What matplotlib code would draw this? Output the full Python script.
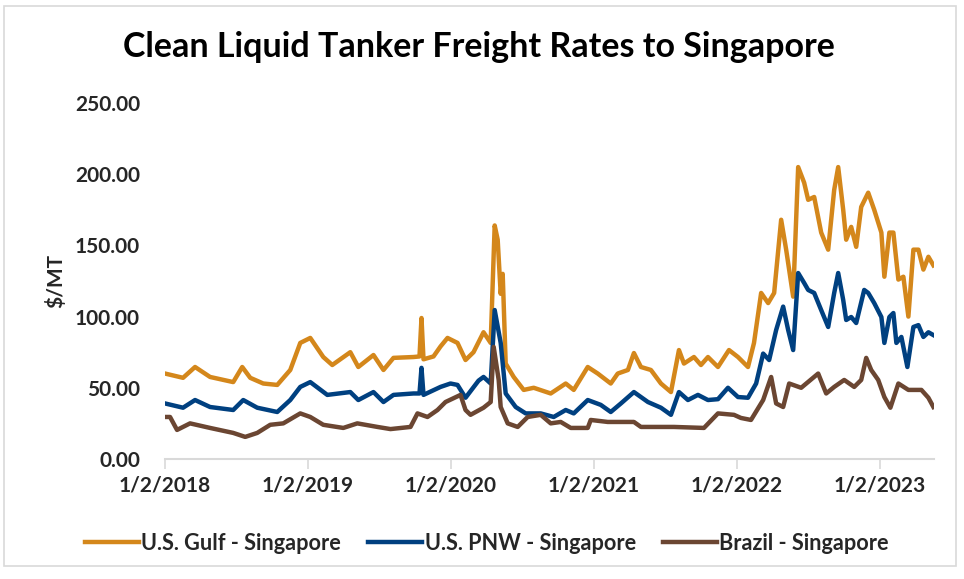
import matplotlib
matplotlib.use("Agg")
import matplotlib.pyplot as plt
from matplotlib.patches import Rectangle
import pandas as pd

# time in years after 1/2/2018
gulf_t = [0.000, 0.126, 0.210, 0.315, 0.477, 0.540, 0.596, 0.687, 0.785, 0.876, 0.946,
          1.016, 1.107, 1.170, 1.296, 1.352, 1.458, 1.528, 1.598, 1.738, 1.780, 1.794,
          1.808, 1.878, 1.927, 1.976, 2.046, 2.102, 2.158, 2.228, 2.278, 2.306, 2.327,
          2.348, 2.362, 2.383, 2.439, 2.509, 2.579, 2.698, 2.803, 2.859, 2.957, 3.027,
          3.118, 3.167, 3.238, 3.280, 3.329, 3.399, 3.469, 3.539, 3.595, 3.630, 3.700,
          3.749, 3.798, 3.868, 3.945, 4.008, 4.078, 4.120, 4.170, 4.219, 4.261, 4.310,
          4.345, 4.394, 4.429, 4.471, 4.499, 4.541, 4.590, 4.639, 4.681, 4.709, 4.744,
          4.765, 4.800, 4.835, 4.870, 4.919, 4.961, 5.011, 5.032, 5.067, 5.095, 5.130,
          5.165, 5.200, 5.235, 5.270, 5.305, 5.340, 5.375]
gulf_v = [60, 57, 64.6, 57.6, 54, 64.6, 57, 53, 52, 62.5, 81.5,
          85, 71.6, 66, 75, 64.6, 73, 62.5, 71, 71.6, 72, 99,
          70, 72, 79, 85, 81.5, 69.5, 75, 89, 81.5, 164, 154,
          116, 130, 67, 57.6, 48.5, 50, 46, 53, 48.5, 64.6, 60,
          53, 60, 62.5, 74.4, 64.6, 62.5, 53, 47, 76.5, 67, 71.6,
          66, 71.6, 64.6, 76.5, 71.6, 64.6, 81.5, 116.6, 109.5, 116.6, 168,
          147, 114, 205, 194, 182, 184, 159, 147, 189, 205, 175,
          154, 163, 149, 177, 187, 175, 159, 128, 159, 159, 126,
          128, 100, 147, 147, 133, 142, 136]

pnw_t = [0.000, 0.126, 0.210, 0.315, 0.477, 0.547, 0.645, 0.785, 0.876, 0.946, 1.016,
         1.135, 1.296, 1.352, 1.458, 1.528, 1.598, 1.738, 1.780, 1.794, 1.808, 1.927,
         1.997, 2.046, 2.102, 2.193, 2.228, 2.278, 2.306, 2.348, 2.383, 2.453, 2.523,
         2.628, 2.719, 2.803, 2.859, 2.957, 3.048, 3.118, 3.189, 3.280, 3.378, 3.469,
         3.539, 3.595, 3.658, 3.728, 3.798, 3.868, 3.938, 4.008, 4.078, 4.135, 4.184,
         4.226, 4.275, 4.324, 4.359, 4.394, 4.429, 4.471, 4.499, 4.541, 4.590, 4.639,
         4.681, 4.709, 4.744, 4.765, 4.800, 4.835, 4.891, 4.919, 4.961, 5.011, 5.032,
         5.067, 5.095, 5.116, 5.151, 5.193, 5.235, 5.270, 5.305, 5.340, 5.375]
pnw_v = [39, 36, 41.4, 36.5, 34.4, 41.4, 36, 33, 41.4, 50.6, 54,
         45, 47, 41.4, 47, 40, 45, 46, 46, 64, 45, 50.6,
         53, 52, 43, 55, 57.6, 53, 104.6, 81.5, 46, 36.5, 32,
         32, 29.5, 34.4, 32, 41.4, 38, 33, 39, 47, 40, 36,
         31, 47, 41.4, 45, 41.4, 42, 50, 43.5, 43, 53, 74,
         69.5, 90.6, 107, 90.6, 76.5, 130.6, 123.6, 118.7, 116.6, 104.6, 92.7,
         116.6, 130.6, 111.7, 97.6, 99.7, 95.5, 118.7, 116.6, 109.5, 99.7, 81.5,
         99.7, 102.5, 81.5, 85.7, 64.6, 92.7, 94, 85.7, 89, 87]

brazil_t = [0.000, 0.035, 0.084, 0.175, 0.315, 0.477, 0.561, 0.645, 0.736, 0.827, 0.946,
            1.016, 1.107, 1.247, 1.345, 1.486, 1.577, 1.717, 1.766, 1.836, 1.906, 1.962,
            2.067, 2.102, 2.137, 2.228, 2.278, 2.299, 2.334, 2.348, 2.397, 2.467, 2.537,
            2.628, 2.698, 2.768, 2.838, 2.957, 2.978, 3.097, 3.280, 3.329, 3.560, 3.770,
            3.868, 3.980, 4.029, 4.099, 4.184, 4.240, 4.275, 4.324, 4.366, 4.450, 4.569,
            4.625, 4.681, 4.751, 4.821, 4.870, 4.905, 4.940, 4.989, 5.032, 5.074, 5.130,
            5.200, 5.291, 5.340, 5.375]
brazil_v = [29.5, 29.5, 20.4, 25, 21.8, 18.3, 15.5, 18.3, 24, 25, 32,
            29.5, 24, 21.8, 25, 22.5, 21, 22.5, 32, 29.5, 34.4, 40,
            45, 34.4, 31, 36, 40, 78.7, 55.5, 36.5, 25, 22.5, 29.5,
            31, 25, 26, 21.8, 21.8, 27.4, 26, 26, 22.5, 22.5, 21.8,
            32, 31, 28.8, 27.4, 41.4, 57.6, 39, 36.5, 53, 50, 60,
            46, 50.6, 55.5, 50.6, 55.5, 71, 62.5, 55.5, 43.5, 36, 53,
            48.5, 48.5, 43, 36.5]

series_names = ["U.S. Gulf - Singapore", "U.S. PNW - Singapore", "Brazil - Singapore"]
tick_years = [2018, 2019, 2020, 2021, 2022, 2023]
y_ticks = [0, 50, 100, 150, 200, 250]

BASE = pd.Timestamp("2018-01-02")


def to_dates(ts):
    return [BASE + pd.to_timedelta(t * 365.25, unit="D") for t in ts]


plt.rcParams["font.family"] = ["Lato", "DejaVu Sans"]
plt.rcParams["font.weight"] = "bold"

fig = plt.figure(figsize=(9.64, 5.79), dpi=100)
fig.patch.set_facecolor("white")
fig.add_artist(Rectangle((0.004, 0.022), 0.988, 0.968, transform=fig.transFigure,
                         fill=False, edgecolor="#d9d9d9", linewidth=1.2))

ax = fig.add_axes([0.1712, 0.2073, 0.7978, 0.6148])

colors = ["#D4871B", "#004080", "#6B4632"]
for t, v, c, n in zip([gulf_t, pnw_t, brazil_t], [gulf_v, pnw_v, brazil_v], colors, series_names):
    ax.plot(to_dates(t), v, color=c, linewidth=3.2, label=n, solid_joinstyle="round")

ax.set_ylim(0, 250)
ax.set_xlim(BASE, BASE + pd.to_timedelta(5.38 * 365.25, unit="D"))
ax.set_yticks(y_ticks)
ax.set_yticklabels([f"{v:.2f}" for v in y_ticks])
xt = [pd.Timestamp(f"{y}-01-02") for y in tick_years]
ax.set_xticks(xt)
ax.set_xticklabels([f"1/2/{y}" for y in tick_years])

for s in ["top", "right", "left"]:
    ax.spines[s].set_visible(False)
ax.spines["bottom"].set_color("#d9d9d9")
ax.spines["bottom"].set_linewidth(1.5)
ax.tick_params(axis="y", length=0, pad=18, labelsize=15, labelcolor="#262626")
ax.tick_params(axis="x", length=7, width=1.2, color="#d9d9d9", pad=5, labelsize=15,
               labelcolor="#262626")
for lab in ax.get_xticklabels() + ax.get_yticklabels():
    lab.set_fontweight("bold")

ax.set_ylabel("$/MT", fontsize=15, fontweight="bold", color="#262626", labelpad=6)
fig.text(0.497, 0.918, "Clean Liquid Tanker Freight Rates to Singapore", ha="center",
         va="center", fontsize=24.5, fontweight="bold", color="black")

leg = fig.legend(loc="center", bbox_to_anchor=(0.505, 0.062), ncol=3, frameon=False,
                 fontsize=15.6, handlelength=2.5, handletextpad=0.1, columnspacing=1.25)
for txt in leg.get_texts():
    txt.set_color("#262626")
    txt.set_fontweight("bold")

fig.savefig("out.png", dpi=100, facecolor="white")
